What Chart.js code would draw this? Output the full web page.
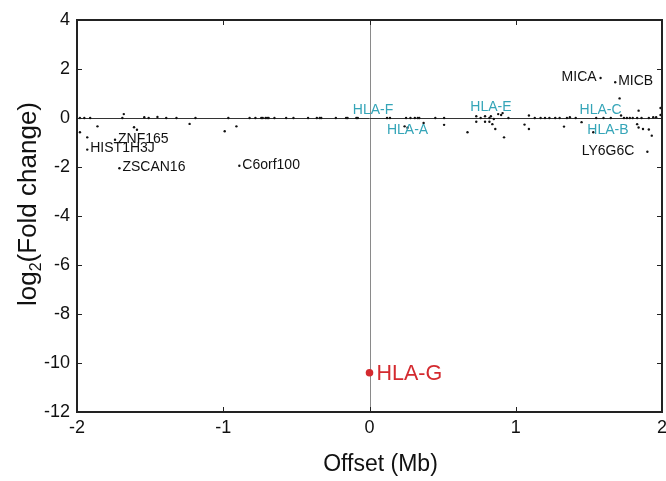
<!DOCTYPE html>
<html>
<head>
<meta charset="utf-8">
<script src="https://cdn.jsdelivr.net/npm/chart.js@4/dist/chart.umd.min.js"></script>
<style>
html,body{margin:0;padding:0;background:#fff;}
#wrap{width:666px;height:481px;position:relative;}
</style>
</head>
<body>
<div id="wrap"><canvas id="c" width="666" height="481"></canvas></div>
<script>
// ---- data (offset in Mb, log2 fold change) ----
const offsetMb = [
  -1.98,-1.95,-1.91,-1.68,-1.86,-1.98,-1.93,-1.61,-1.59,-1.69,-1.54,-1.51,-1.45,-1.39,-1.32,-1.19,-1.23,-0.99,-0.91,
  -0.965,-0.82,-0.78,-0.74,-0.73,-0.71,-0.70,-0.69,-0.65,-0.57,-0.52,-0.42,-0.36,-0.34,-0.33,-0.23,-0.16,-0.15,-0.09,-0.08,
  0.12,0.14,0.25,0.28,0.31,0.33,0.34,0.45,0.51,
  0.24,0.26,0.37,0.51,0.67,
  0.73,0.76,0.79,0.82,0.83,0.85,0.88,0.90,0.91,0.73,0.79,0.82,0.84,0.86,0.92,0.95,
  1.09,1.06,1.09,1.13,1.17,1.20,1.23,1.27,1.30,1.35,1.37,1.41,1.33,1.45,1.53,1.71,1.72,1.74,1.76,1.78,1.80,1.83,
  1.84,1.83,1.84,1.87,1.91,1.93,1.86,1.91,1.94,1.96,1.99,1.99,1.55,1.60,1.65,
  -1.74,-1.93,-1.71,-0.89,1.58,1.68,1.90
];
const log2FC = [
  0,0,0,0.16,-0.34,-0.58,-0.79,-0.38,-0.48,0,0.03,0,0.04,0,0,0,-0.24,-0.54,-0.34,
  0,0,0,0,0,0,0,0,0,0,0,0,0,0,0,0,0,0,0,0,
  0,0,0,0,0,0,0,0,0,
  -0.34,-0.40,-0.20,-0.28,-0.58,
  0.07,0,0.07,0,0.07,-0.04,0.16,0.12,0.20,-0.15,-0.15,-0.15,-0.25,-0.45,-0.79,0,
  0.10,-0.27,-0.45,0,0,0,0,0,0,0,0.03,0,-0.35,-0.17,-0.58,0.80,0.10,0,0,0,0,0,
  0.30,-0.25,-0.39,-0.45,-0.47,-0.72,0,0,0.03,0.03,0.12,0.41,0,0,0,
  -0.89,-1.29,-2.05,-1.95,1.63,1.46,-1.38
];
// highlighted gene
const targetGene = "HLA-G";
const targetOffset = [0];
const targetFC = [-10.4];

// labelled genes (anchor in data units)
const geneNames = ["ZNF165","HIST1H3J","ZSCAN16","C6orf100","MICA","MICB","LY6G6C"];
const geneX = [-1.74,-1.93,-1.71,-0.89,1.58,1.68,1.90];
const geneY = [-0.89,-1.29,-2.05,-1.95,1.63,1.46,-1.38];
const hlaNames = ["HLA-F","HLA-A","HLA-E","HLA-C","HLA-B"];
const hlaX = [0.024,0.26,0.83,1.58,1.63];
const hlaY = [0.33,-0.49,0.45,0.33,-0.49];

const xTicks = [-2,-1,0,1,2];
const yTicks = [4,2,0,-2,-4,-6,-8,-10,-12];
const xTitle = 'Offset (Mb)';

const FONT = "'Liberation Sans', Arial, Helvetica, sans-serif";

const pts = offsetMb.map((x,i)=>({x:x,y:log2FC[i]}));
const tgt = targetOffset.map((x,i)=>({x:x,y:targetFC[i]}));

const decor = {
  id:'decor',
  beforeDatasetsDraw(chart){
    const {ctx, chartArea:a, scales:{x,y}} = chart;
    ctx.save();
    ctx.lineWidth = 1;
    ctx.strokeStyle = '#8a8a8a';
    const x0 = Math.round(x.getPixelForValue(0))+0.5;
    ctx.beginPath(); ctx.moveTo(x0,a.top); ctx.lineTo(x0,a.bottom); ctx.stroke();
    ctx.strokeStyle = '#333';
    const y0 = Math.round(y.getPixelForValue(0))+0.5;
    ctx.beginPath(); ctx.moveTo(a.left,y0); ctx.lineTo(a.right,y0); ctx.stroke();
    ctx.restore();
  },
  afterDatasetsDraw(chart){
    const {ctx, chartArea:a, scales:{x,y}} = chart;
    ctx.save();
    // frame
    ctx.strokeStyle = '#222';
    ctx.lineWidth = 2;
    ctx.strokeRect(a.left, a.top, a.right-a.left, a.bottom-a.top);
    // inward ticks
    ctx.lineWidth = 1;
    const tl = 5;
    xTicks.forEach(v=>{
      const px = Math.round(x.getPixelForValue(v))+0.5;
      ctx.beginPath(); ctx.moveTo(px,a.bottom); ctx.lineTo(px,a.bottom-tl); ctx.stroke();
      ctx.beginPath(); ctx.moveTo(px,a.top); ctx.lineTo(px,a.top+tl); ctx.stroke();
    });
    yTicks.forEach(v=>{
      const py = Math.round(y.getPixelForValue(v))+0.5;
      ctx.beginPath(); ctx.moveTo(a.left,py); ctx.lineTo(a.left+tl,py); ctx.stroke();
      ctx.beginPath(); ctx.moveTo(a.right,py); ctx.lineTo(a.right-tl,py); ctx.stroke();
    });
    // gene labels
    ctx.textBaseline = 'middle';
    ctx.font = '14px ' + FONT;
    ctx.fillStyle = '#111';
    const leftSide = {"MICA":4,"LY6G6C":13};
    geneNames.forEach((n,i)=>{
      const px = x.getPixelForValue(geneX[i]);
      const py = y.getPixelForValue(geneY[i]);
      if (leftSide[n] !== undefined){
        ctx.textAlign = 'right';
        ctx.fillText(n, px - leftSide[n], py - 1);
      } else {
        ctx.textAlign = 'left';
        ctx.fillText(n, px + 3, py - 1);
      }
    });
    ctx.fillStyle = '#35a5b8';
    ctx.textAlign = 'center';
    hlaNames.forEach((n,i)=>{
      ctx.fillText(n, x.getPixelForValue(hlaX[i]), y.getPixelForValue(hlaY[i]));
    });
    // target label
    ctx.fillStyle = '#d42a2f';
    ctx.font = '21.5px ' + FONT;
    ctx.textAlign = 'left';
    ctx.fillText(targetGene, x.getPixelForValue(targetOffset[0]) + 7, y.getPixelForValue(targetFC[0]) + 1);
    // x-axis title
    ctx.fillStyle = '#111';
    ctx.font = '23px ' + FONT;
    ctx.textAlign = 'center';
    ctx.fillText(xTitle, (a.left + a.right) / 2 + 11, 465);
    ctx.restore();

    // y-axis title with subscript
    ctx.save();
    const cx = 27, cy = (a.top + a.bottom) / 2 - 12;
    ctx.translate(cx, cy);
    ctx.rotate(-Math.PI/2);
    ctx.fillStyle = '#111';
    ctx.textBaseline = 'alphabetic';
    ctx.textAlign = 'left';
    const big = '26px ' + FONT, small = '16px ' + FONT;
    const p1 = 'log', p2 = '2', p3 = '(Fold change)';
    ctx.font = big; const w1 = ctx.measureText(p1).width, w3 = ctx.measureText(p3).width;
    ctx.font = small; const w2 = ctx.measureText(p2).width;
    const total = w1 + w2 + w3;
    let sx = -total/2;
    const base = 9;
    ctx.font = big; ctx.fillText(p1, sx, base); sx += w1;
    ctx.font = small; ctx.fillText(p2, sx, base + 5); sx += w2;
    ctx.font = big; ctx.fillText(p3, sx, base);
    ctx.restore();
  }
};

new Chart(document.getElementById('c'), {
  type:'scatter',
  data:{datasets:[
    {data:pts, pointRadius:1.2, pointHoverRadius:1.2, backgroundColor:'#111', borderWidth:0},
    {data:tgt, pointRadius:3.8, pointHoverRadius:3.8, backgroundColor:'#d42a2f', borderWidth:0}
  ]},
  options:{
    responsive:false,
    animation:false,
    events:[],
    layout:{padding:{top:20,right:4,left:0,bottom:0}},
    plugins:{legend:{display:false},tooltip:{enabled:false}},
    scales:{
      x:{
        type:'linear', min:-2, max:2,
        afterFit(s){ s.height = 69; s.paddingLeft = 0; s.paddingRight = 0; },
        afterBuildTicks(s){ s.ticks = xTicks.map(v=>({value:v})); },
        grid:{display:false, drawTicks:false},
        border:{display:false},
        ticks:{color:'#111', font:{family:FONT,size:18}, padding:5, maxRotation:0, autoSkip:false},
        title:{display:false}
      },
      y:{
        type:'linear', min:-12, max:4,
        afterFit(s){ s.width = 77; s.paddingTop = 0; s.paddingBottom = 0; },
        afterBuildTicks(s){ s.ticks = yTicks.map(v=>({value:v})); },
        grid:{display:false, drawTicks:false},
        border:{display:false},
        ticks:{color:'#111', font:{family:FONT,size:18}, padding:7, autoSkip:false},
        title:{display:false}
      }
    }
  },
  plugins:[decor]
});
</script>
</body>
</html>
